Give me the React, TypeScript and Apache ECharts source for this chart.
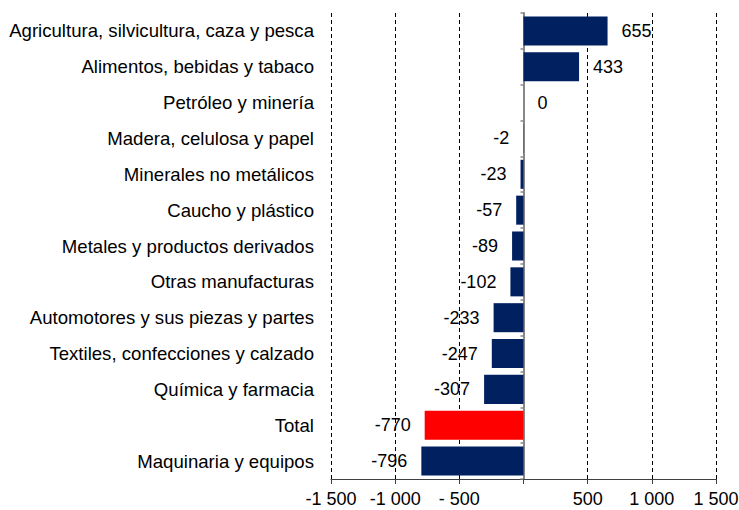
import React, { useEffect, useRef } from "react";
import * as echarts from "echarts";

const categories: string[] = [
  "Agricultura, silvicultura, caza y pesca",
  "Alimentos, bebidas y tabaco",
  "Petróleo y minería",
  "Madera, celulosa y papel",
  "Minerales no metálicos",
  "Caucho y plástico",
  "Metales y productos derivados",
  "Otras manufacturas",
  "Automotores y sus piezas y partes",
  "Textiles, confecciones y calzado",
  "Química y farmacia",
  "Total",
  "Maquinaria y equipos",
];

const values: number[] = [655, 433, 0, -2, -23, -57, -89, -102, -233, -247, -307, -770, -796];

const highlightCategory = "Total";

const tickValues: number[] = [-1500, -1000, -500, 0, 500, 1000, 1500];
const tickLabels: string[] = ["-1 500", "-1 000", "- 500", "", "500", "1 000", "1 500"];

const NAVY = "#002060";
const RED = "#FF0000";
const FONT = "'Liberation Sans', Arial, sans-serif";

export default function App() {
  const ref = useRef<HTMLDivElement>(null);

  useEffect(() => {
    document.body.style.margin = "0";
    if (!ref.current) return;
    const chart = echarts.init(ref.current, undefined, { renderer: "svg" });

    const data = values.map((v, i) => ({
      value: v,
      itemStyle: { color: categories[i] === highlightCategory ? RED : NAVY },
      label: { position: v < 0 ? "left" : "right" },
    }));

    chart.setOption({
      animation: false,
      textStyle: { fontFamily: FONT },
      grid: {
        left: 331,
        right: 23,
        top: 13,
        bottom: 31,
        containLabel: false,
        outerBoundsMode: "none",
      },
      xAxis: {
        type: "value",
        min: -1500,
        max: 1500,
        interval: 500,
        axisLine: { show: true, lineStyle: { color: "#404040", width: 1 } },
        axisTick: { show: true, length: 5, lineStyle: { color: "#404040" } },
        axisLabel: {
          color: "#000",
          fontSize: 18,
          lineHeight: 14,
          fontFamily: FONT,
          margin: 13,
          hideOverlap: false,
          formatter: (v: number) => {
            const idx = tickValues.indexOf(v);
            return idx >= 0 ? tickLabels[idx] : "";
          },
        },
        splitLine: {
          show: true,
          lineStyle: { color: "#000", type: [4, 3], width: 1 },
        },
      },
      yAxis: [
        {
          type: "category",
          data: categories,
          inverse: true,
          position: "left",
          axisLine: { show: false, onZero: false },
          axisTick: { show: false },
          axisLabel: { color: "#000", fontSize: 18.6, fontFamily: FONT, margin: 17 },
        },
        {
          type: "category",
          data: categories,
          inverse: true,
          position: "left",
          axisLine: { show: true, onZero: true, lineStyle: { color: "#888888", width: 2 } },
          axisTick: { show: true, length: 3, inside: false, lineStyle: { color: "#888888", width: 1.5 } },
          axisLabel: { show: false },
        },
      ],
      series: [
        {
          type: "bar",
          data,
          barCategoryGap: "19%",
          yAxisIndex: 0,
          label: {
            show: true,
            color: "#000",
            fontSize: 18,
            fontFamily: FONT,
            distance: 14,
            formatter: (p: any) => String(p.value),
          },
          z: 3,
        },
      ],
    });

    return () => chart.dispose();
  }, []);

  return <div ref={ref} style={{ width: 739, height: 510 }} />;
}
